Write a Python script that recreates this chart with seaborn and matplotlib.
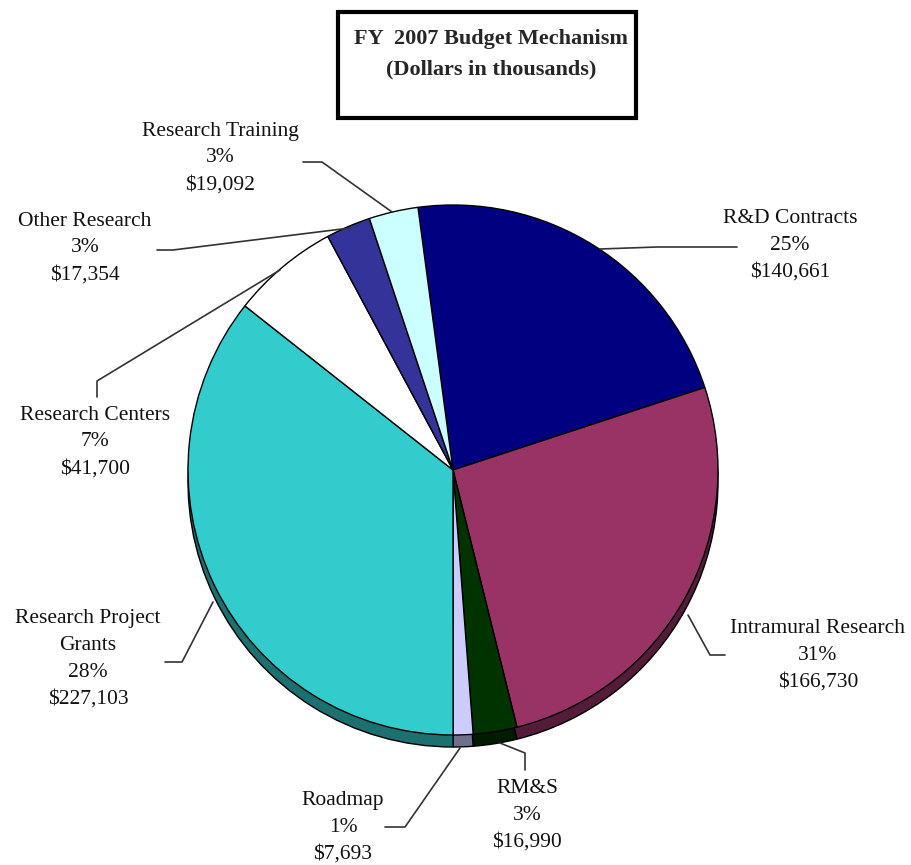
import numpy as np
import matplotlib
matplotlib.use("Agg")
import matplotlib.pyplot as plt
import seaborn as sns

# data (dollars in thousands)
categories = ["R&D Contracts", "Intramural Research", "RM&S", "Roadmap",
              "Research Project\nGrants", "Research Centers", "Other Research",
              "Research Training"]
amounts = [140661, 166730, 16990, 7693, 227103, 41700, 17354, 19092]
pct_labels = ["25%", "31%", "3%", "1%", "28%", "7%", "3%", "3%"]
money_labels = ["$140,661", "$166,730", "$16,990", "$7,693", "$227,103",
                "$41,700", "$17,354", "$19,092"]
slice_colors = ["#000080", "#993366", "#003300", "#CCCCFF", "#33CCCC",
                "#FFFFFF", "#333399", "#CCFFFF"]

sns.set_style("white")
plt.rcParams["font.family"] = ["Liberation Serif", "DejaVu Serif"]

W, H = 912, 865
fig = plt.figure(figsize=(W / 100, H / 100), dpi=100)
ax = fig.add_axes([0, 0, 1, 1])

cx, cy, r = 453, H - 470, 265
depth = 12

def darker(c, f=0.55):
    rgb = np.array(matplotlib.colors.to_rgb(c))
    return tuple(rgb * f)

# shadow (3D side) drawn first, shifted down
ax.pie(amounts, colors=[darker(c) for c in slice_colors], startangle=97.6,
       counterclock=False, center=(cx, cy - depth), radius=r,
       wedgeprops=dict(edgecolor="black", linewidth=1))
ax.pie(amounts, colors=slice_colors, startangle=97.6, counterclock=False,
       center=(cx, cy), radius=r,
       wedgeprops=dict(edgecolor="black", linewidth=1))

# label positions and leader lines in pixel coords (y from top)
label_pos = [(790, 245), (818, 655), (527, 815), (343, 827),
             (88, 659), (95, 442), (85, 248), (220, 158)]
leaders = [
    [(737, 247), (657, 247), (600, 249)],
    [(725, 655), (710, 655), (688, 615)],
    [(525, 770), (525, 753), (500, 743)],
    [(385, 827), (405, 827), (460, 748)],
    [(165, 662), (182, 662), (213, 602)],
    [(97, 397), (97, 381), (280, 270)],
    [(157, 250), (173, 250), (350, 228)],
    [(303, 162), (322, 162), (392, 212)],
]

for name, pct, money, (lx, ly), pts in zip(categories, pct_labels, money_labels,
                                          label_pos, leaders):
    ax.text(lx, H - ly, f"{name}\n{pct}\n{money}", ha="center", va="center",
            fontsize=15.5, color="#111111", linespacing=1.55)
    xs = [p[0] for p in pts]
    ys = [H - p[1] for p in pts]
    ax.plot(xs, ys, color="#333333", lw=1.2, zorder=5)

# title box
ax.add_patch(plt.Rectangle((338, H - 118), 298, 106, fill=False,
                           edgecolor="black", linewidth=3))
ax.text(491, H - 39, "FY  2007 Budget Mechanism", ha="center", va="center",
        fontsize=16, fontweight="bold")
ax.text(491, H - 69, "(Dollars in thousands)", ha="center", va="center",
        fontsize=16, fontweight="bold")

ax.set_xlim(0, W)
ax.set_ylim(0, H)
ax.set_aspect("equal")
ax.axis("off")
fig.savefig("out.png", dpi=100, facecolor="white")
